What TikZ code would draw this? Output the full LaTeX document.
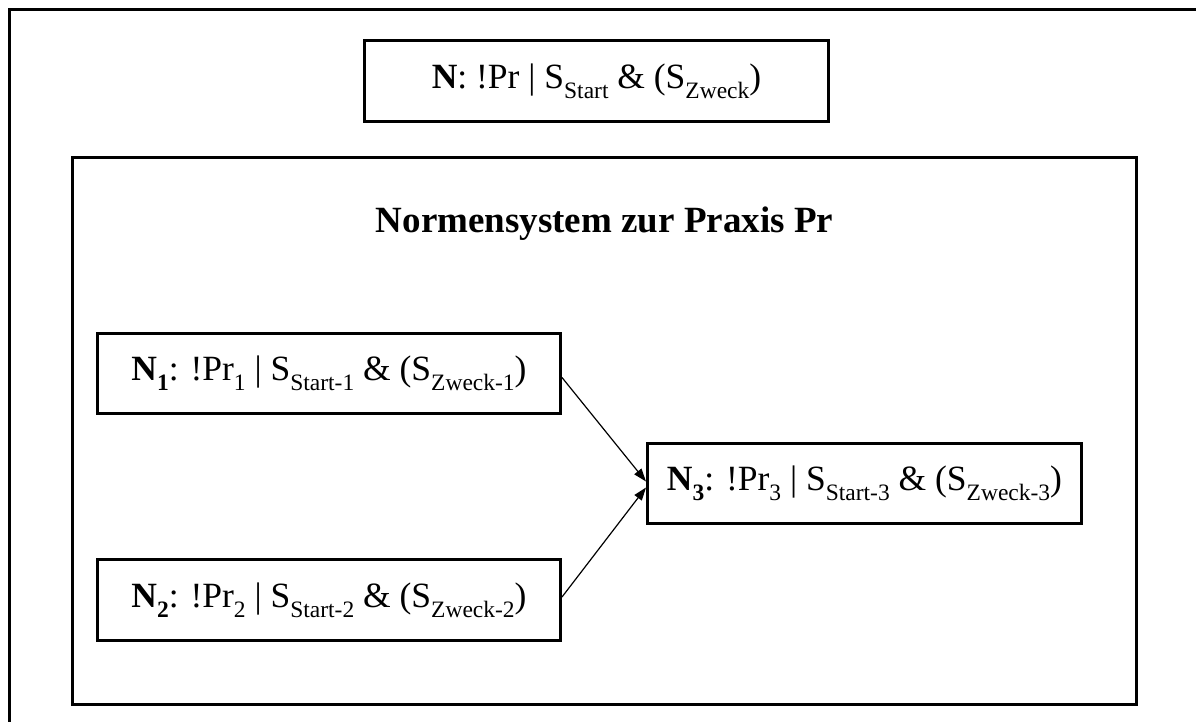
\documentclass[tikz,border=0pt]{standalone}
\usepackage{fontspec}
\setmainfont{Liberation Serif}
\usetikzlibrary{arrows.meta,calc}
\newcommand\subx[1]{\raisebox{-0.28em}{\fontsize{23.5}{27}\selectfont #1}}
\begin{document}
\begin{tikzpicture}[x=1pt,y=-1pt,
  box/.style={draw, line width=3pt, inner sep=0pt, font=\fontsize{35.5}{42}\selectfont},
  arr/.style={line width=1.2pt, -{Triangle[length=13pt,width=9pt]}}]
\useasboundingbox (0,0) rectangle (1196,722);
\coordinate (ocorner) at (9.5,9.5);
\draw[line width=3pt] (9.5,722) -- (ocorner) -- (1196,9.5);
\node[box, minimum width=464, minimum height=81] (n) at (596.5,81.5)
  {\textbf{N}: !Pr | S\subx{Start} \& (S\subx{Zweck})};
\node[box, minimum width=1064, minimum height=547] (sys) at (604.5,431) {};
\node[anchor=base, font=\fontsize{37}{44}\selectfont\bfseries] (title) at (604.5,233)
  {Normensystem zur Praxis Pr};
\node[box, minimum width=463, minimum height=80] (n1) at (329,373.5)
  {\textbf{N\subx{1}}: !Pr\subx{1} | S\subx{Start-1} \& (S\subx{Zweck-1})};
\node[box, minimum width=463, minimum height=81] (n2) at (329,600)
  {\textbf{N\subx{2}}: !Pr\subx{2} | S\subx{Start-2} \& (S\subx{Zweck-2})};
\node[box, minimum width=434, minimum height=80] (n3) at (864.5,483.5)
  {\textbf{N\subx{3}}: !Pr\subx{3} | S\subx{Start-3} \& (S\subx{Zweck-3})};
\draw[arr] ($(n1.east)+(0,4)$) -- ($(n3.west)+(0,-2)$);
\draw[arr] ($(n2.east)+(0,-3)$) -- ($(n3.west)+(0,4)$);
\end{tikzpicture}
\end{document}
